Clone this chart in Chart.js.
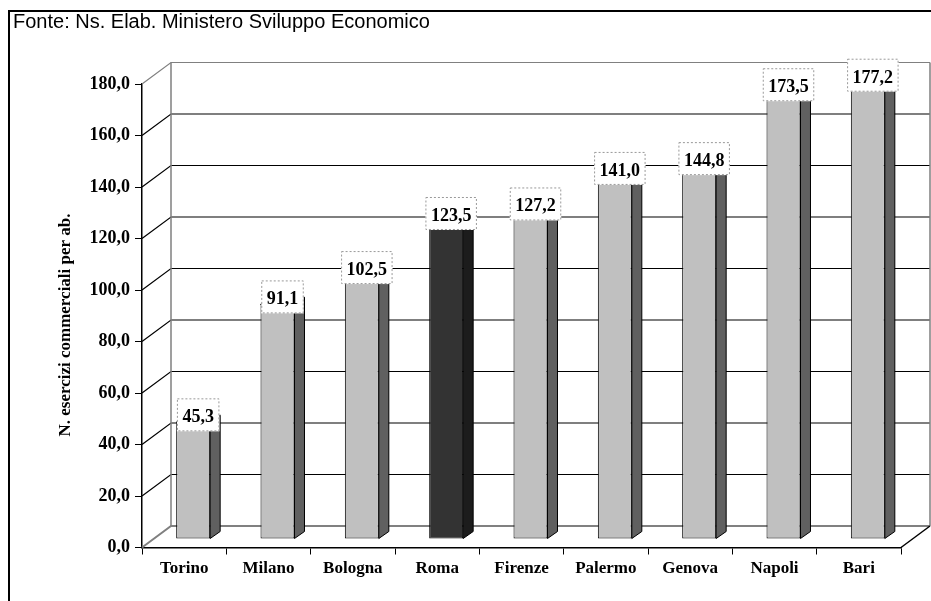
<!DOCTYPE html>
<html>
<head>
<meta charset="utf-8">
<script src="https://cdn.jsdelivr.net/npm/chart.js@4.4.0/dist/chart.umd.min.js"></script>
<style>
  html, body { margin: 0; padding: 0; background: #fff; }
</style>
</head>
<body>
<canvas id="myChart" width="931" height="601"></canvas>
<script>
// data
var cities = ['Torino', 'Milano', 'Bologna', 'Roma', 'Firenze', 'Palermo', 'Genova', 'Napoli', 'Bari'];
var values = [45.3, 91.1, 102.5, 123.5, 127.2, 141.0, 144.8, 173.5, 177.2];
var highlighted = 'Roma';
var yTicks = [0, 20, 40, 60, 80, 100, 120, 140, 160, 180];
var sourceText = 'Fonte: Ns. Elab. Ministero Sviluppo Economico';
var yTitle = 'N. esercizi commerciali per ab.';

// 3d look
var DX = 29, DY = -21.5;   // back wall offset
var BX = 9, BY = -8.5;     // bars stand a bit inside the box
var SW = 10, SH = 7;       // bar side face

var serif = "'Liberation Serif', 'Times New Roman', serif";

function fmt(v) {
    return v.toFixed(1).replace('.', ',');
}

var frontColors = cities.map(function (c) { return c === highlighted ? '#333333' : '#c0c0c0'; });
var sideColors = cities.map(function (c) { return c === highlighted ? '#1c1c1c' : '#606060'; });

var box3d = {
    id: 'box3d',
    beforeDatasetsDraw: function (chart) {
        var c = chart.ctx, a = chart.chartArea, y = chart.scales.y;
        var top = yTicks[yTicks.length - 1];
        c.save();
        yTicks.forEach(function (v) {
            var py = y.getPixelForValue(v);
            var edge = (v === 0 || v === top);
            c.strokeStyle = edge ? '#808080' : '#000';
            c.lineWidth = v === 0 ? 2 : 1.2;
            c.beginPath();
            c.moveTo(a.left, py);
            c.lineTo(a.left + DX, py + DY);
            c.lineTo(a.right + DX, py + DY);
            c.stroke();
        });
        // wall edges
        var y0 = y.getPixelForValue(0), yT = y.getPixelForValue(top);
        c.strokeStyle = '#808080';
        c.lineWidth = 1.5;
        c.beginPath();
        c.moveTo(a.left + DX, yT + DY); c.lineTo(a.left + DX, y0 + DY);
        c.moveTo(a.right + DX, yT + DY); c.lineTo(a.right + DX, y0 + DY);
        c.stroke();
        // floor right edge
        c.strokeStyle = '#000';
        c.lineWidth = 1.5;
        c.beginPath();
        c.moveTo(a.right, y0); c.lineTo(a.right + DX, y0 + DY);
        c.stroke();
        c.restore();

        c.save();
        c.translate(BX, BY);
    },
    afterDatasetsDraw: function (chart) {
        var c = chart.ctx;
        var bars = chart.getDatasetMeta(0).data;
        c.lineWidth = 1;
        c.strokeStyle = '#000';
        bars.forEach(function (b, i) {
            var l = b.x - b.width / 2, r = b.x + b.width / 2;
            // side
            c.fillStyle = sideColors[i];
            c.beginPath();
            c.moveTo(r, b.y); c.lineTo(r + SW, b.y - SH);
            c.lineTo(r + SW, b.base - SH); c.lineTo(r, b.base);
            c.closePath(); c.fill(); c.stroke();
            // top
            c.fillStyle = frontColors[i];
            c.beginPath();
            c.moveTo(l, b.y); c.lineTo(l + SW, b.y - SH);
            c.lineTo(r + SW, b.y - SH); c.lineTo(r, b.y);
            c.closePath(); c.fill(); c.stroke();
        });
        c.restore();

        // value labels
        c.save();
        c.font = 'bold 18px ' + serif;
        c.textAlign = 'center';
        c.textBaseline = 'alphabetic';
        bars.forEach(function (b, i) {
            var txt = fmt(values[i]);
            var cx = b.x + BX + SW / 2;
            var ty = b.y + BY;
            var w = c.measureText(txt).width + 11;
            c.fillStyle = '#fff';
            c.fillRect(cx - w / 2, ty - 24, w, 33);
            c.setLineDash([2, 2]);
            c.strokeStyle = '#999';
            c.lineWidth = 1;
            c.strokeRect(cx - w / 2 + 0.5, ty - 23.5, w - 1, 32);
            c.setLineDash([]);
            c.fillStyle = '#000';
            c.fillText(txt, cx, ty);
        });
        c.restore();
    },
    afterDraw: function (chart) {
        var c = chart.ctx;
        c.save();
        // frame
        c.strokeStyle = '#000';
        c.lineWidth = 2;
        c.beginPath();
        c.moveTo(9, 601); c.lineTo(9, 11); c.lineTo(931, 11);
        c.stroke();
        // source
        c.fillStyle = '#000';
        c.font = "20px 'Liberation Sans', Arial, sans-serif";
        c.textAlign = 'left';
        c.textBaseline = 'alphabetic';
        c.fillText(sourceText, 13, 28);
        // y title
        c.translate(66, 325);
        c.rotate(-Math.PI / 2);
        c.font = 'bold 17px ' + serif;
        c.textAlign = 'center';
        c.textBaseline = 'middle';
        c.fillText(yTitle, 0, 0);
        c.restore();
    }
};

var ctx = document.getElementById('myChart').getContext('2d');
var chart = new Chart(ctx, {
    type: 'bar',
    data: {
        labels: cities,
        datasets: [{
            data: values,
            backgroundColor: frontColors,
            borderColor: '#000',
            borderWidth: 1,
            borderSkipped: false,
            categoryPercentage: 1,
            barPercentage: 0.403,
            clip: false
        }]
    },
    options: {
        responsive: false,
        animation: false,
        devicePixelRatio: 1,
        layout: { padding: { top: 84, right: 30, bottom: 0, left: 0 } },
        plugins: {
            legend: { display: false },
            tooltip: { enabled: false }
        },
        scales: {
            x: {
                grid: { drawOnChartArea: false, drawTicks: true, tickLength: 7, color: '#000', offset: true },
                border: { display: true, color: '#000', width: 1.5 },
                ticks: { color: '#000', padding: 4, font: { family: serif, size: 17, weight: 'bold' } },
                afterFit: function (s) { s.height = 53.5; }
            },
            y: {
                min: 0,
                max: 180,
                ticks: {
                    stepSize: 20,
                    color: '#000',
                    padding: 5,
                    font: { family: serif, size: 18, weight: 'bold' },
                    callback: function (v) { return fmt(v); }
                },
                grid: { drawOnChartArea: false, drawTicks: true, tickLength: 7, color: '#000' },
                border: { display: true, color: '#000', width: 1.5 },
                afterFit: function (s) { s.width = 142; }
            }
        }
    },
    plugins: [box3d]
});
</script>
</body>
</html>
